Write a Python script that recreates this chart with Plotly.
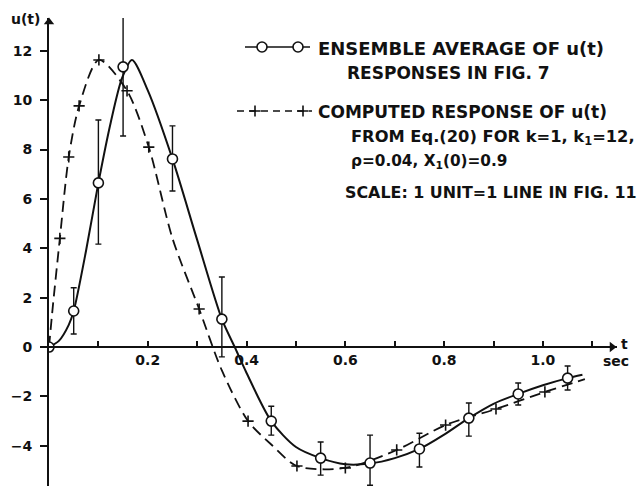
import plotly.graph_objects as go

# ---- data ----
# ensemble average (circles) with error bars
avg_t = [0.0, 0.05, 0.10, 0.15, 0.25, 0.35, 0.45, 0.55, 0.65, 0.75, 0.85, 0.95, 1.05]
avg_u = [0.0, 1.46, 6.65, 11.35, 7.62, 1.13, -3.0, -4.5, -4.7, -4.13, -2.88, -1.9, -1.26]
avg_hi = [0.0, 2.4, 9.2, 13.5, 8.96, 2.84, -2.4, -3.85, -3.57, -3.49, -2.27, -1.46, -0.77]
avg_lo = [0.0, 0.53, 4.17, 8.55, 6.32, -0.4, -3.57, -5.19, -5.6, -4.86, -3.61, -2.35, -1.74]

# smooth solid curve through the ensemble average
solid_t = [0.0, 0.02, 0.04, 0.05, 0.075, 0.10, 0.125, 0.148, 0.168, 0.20, 0.25, 0.30,
           0.35, 0.376, 0.40, 0.45, 0.50, 0.55, 0.60, 0.65, 0.70, 0.75, 0.80, 0.85,
           0.90, 0.95, 1.00, 1.05, 1.08]
solid_u = [0.0, 0.25, 0.9, 1.46, 3.9, 6.65, 9.1, 10.9, 11.63, 10.4, 7.62, 4.34,
           1.13, 0.0, -1.05, -3.0, -4.05, -4.5, -4.75, -4.72, -4.5, -4.13, -3.55, -2.88,
           -2.3, -1.9, -1.55, -1.26, -1.12]

# computed response (dashed curve) and its + markers
dash_t = [0.0, 0.008, 0.022, 0.04, 0.061, 0.101, 0.158, 0.202, 0.25, 0.304, 0.35, 0.403,
          0.45, 0.502, 0.60, 0.704, 0.803, 0.905, 1.004, 1.085]
dash_u = [0.0, 1.7, 4.4, 7.7, 9.77, 11.63, 10.38, 8.1, 4.4, 1.54, -0.95, -3.0,
          -3.95, -4.82, -4.9, -4.17, -3.16, -2.51, -1.82, -1.3]
plus_t = [0.022, 0.04, 0.061, 0.101, 0.158, 0.202, 0.304, 0.403, 0.502, 0.60, 0.704,
          0.803, 0.905, 1.004]
plus_u = [4.4, 7.7, 9.77, 11.63, 10.38, 8.1, 1.54, -3.0, -4.82, -4.9, -4.17,
          -3.16, -2.51, -1.82]

x_tickvals = [0.2, 0.4, 0.6, 0.8, 1.0]
x_ticktext = ["0.2", "0.4", "0.6", "0.8", "1.0"]
x_minor_vals = [0.1, 0.3, 0.5, 0.7, 0.9, 1.1]
y_tickvals = [-4, -2, 0, 2, 4, 6, 8, 10, 12]

# ---- layout geometry (pixels) ----
W, H = 643, 486
ML, MR, MT, MB = 49, 26, 18, 0
XMIN, XMAX = 0.0, 1.15
YMIN, YMAX = -5.63, 13.33
PW, PH = W - ML - MR, H - MT - MB

def px(x):
    return (x - ML) / PW

def py(y):
    return (H - MB - y) / PH

FONT = "DejaVu Sans"
BLACK = "#111111"

fig = go.Figure()

# solid curve
fig.add_trace(go.Scatter(x=solid_t, y=solid_u, mode="lines",
                         line=dict(color=BLACK, width=2, shape="spline", smoothing=0.8),
                         hoverinfo="skip", showlegend=False))
# dashed curve
fig.add_trace(go.Scatter(x=dash_t, y=dash_u, mode="lines",
                         line=dict(color=BLACK, width=1.8, dash="11px,6px",
                                   shape="spline", smoothing=0.8),
                         hoverinfo="skip", showlegend=False))
# + markers
fig.add_trace(go.Scatter(x=plus_t, y=plus_u, mode="markers",
                         marker=dict(symbol="cross-thin", size=8,
                                     line=dict(color=BLACK, width=1.6)),
                         showlegend=False))
# circles with error bars
err_plus = [h - u for h, u in zip(avg_hi, avg_u)]
err_minus = [u - l for u, l in zip(avg_u, avg_lo)]
fig.add_trace(go.Scatter(x=avg_t, y=avg_u, mode="markers",
                         marker=dict(symbol="circle", size=10, color="white",
                                     line=dict(color=BLACK, width=1.6)),
                         error_y=dict(type="data", array=err_plus, arrayminus=err_minus,
                                      symmetric=False, color=BLACK, thickness=1.4, width=3),
                         showlegend=False))

# legend glyphs and axis arrowheads on a pixel-coordinate overlay axis
ov = dict(xaxis="x2", yaxis="y2", showlegend=False, hoverinfo="skip")
fig.add_trace(go.Scatter(x=[245, 310], y=[47, 47], mode="lines",
                         line=dict(color=BLACK, width=1.3), **ov))
fig.add_trace(go.Scatter(x=[262, 298], y=[47, 47], mode="markers",
                         marker=dict(symbol="circle", size=10, color="white",
                                     line=dict(color=BLACK, width=1.6)), **ov))
fig.add_trace(go.Scatter(x=[237, 312], y=[111, 111], mode="lines",
                         line=dict(color=BLACK, width=1.5, dash="7px,5px"), **ov))
fig.add_trace(go.Scatter(x=[255, 303], y=[111, 111], mode="markers",
                         marker=dict(symbol="cross-thin", size=8,
                                     line=dict(color=BLACK, width=1.6)), **ov))
fig.add_trace(go.Scatter(x=[49], y=[22], mode="markers", cliponaxis=False,
                         marker=dict(symbol="triangle-up", size=9, color=BLACK), **ov))
fig.add_trace(go.Scatter(x=[612], y=[347], mode="markers", cliponaxis=False,
                         marker=dict(symbol="triangle-right", size=9, color=BLACK), **ov))

texts = [
    (316, 48, 18.0, "ENSEMBLE AVERAGE OF u(t)"),
    (345, 73, 17.0, "RESPONSES IN FIG. 7"),
    (316, 112, 17.0, "COMPUTED RESPONSE OF u(t)"),
    (349, 137, 16.3, "FROM Eq.(20) FOR k=1, k<sub>1</sub>=12,"),
    (349, 162, 15.3, "ρ=0.04, X<sub>1</sub>(0)=0.9"),
    (343, 192, 15.9, "SCALE: 1 UNIT=1 LINE IN FIG. 11"),
]
anns = []
for x, y, s, t in texts:
    anns.append(dict(x=px(x), y=py(y), xref="paper", yref="paper", text=t,
                     showarrow=False, xanchor="left", yanchor="middle",
                     font=dict(family=FONT, size=s, color=BLACK, weight="bold")))

lf = dict(family=FONT, size=14, color=BLACK, weight="bold")
anns.append(dict(x=px(25), y=py(19), xref="paper", yref="paper", text="u(t)",
                 showarrow=False, xanchor="center", yanchor="middle", font=lf))
anns.append(dict(x=px(624), y=py(344), xref="paper", yref="paper", text="t",
                 showarrow=False, xanchor="center", yanchor="middle", font=lf))
anns.append(dict(x=px(616), y=py(361), xref="paper", yref="paper", text="sec",
                 showarrow=False, xanchor="center", yanchor="middle", font=lf))

zero_pos = (0 - YMIN) / (YMAX - YMIN)
tickfont = dict(family=FONT, size=14, color=BLACK, weight="bold")

fig.update_layout(
    width=W, height=H,
    margin=dict(l=ML, r=MR, t=MT, b=MB, pad=0),
    plot_bgcolor="white", paper_bgcolor="white",
    font=dict(family=FONT, color=BLACK),
    annotations=anns,
    xaxis=dict(range=[XMIN, XMAX], anchor="free", position=zero_pos,
               showline=True, linewidth=2, linecolor=BLACK, showgrid=False,
               zeroline=False, ticks="inside", ticklen=5, tickwidth=1.5,
               tickcolor=BLACK, tickvals=x_tickvals, ticktext=x_ticktext,
               minor=dict(tickvals=x_minor_vals, ticks="inside", ticklen=5,
                          tickwidth=1.5, tickcolor=BLACK, showgrid=False),
               tickfont=tickfont),
    yaxis=dict(range=[YMIN, YMAX], showline=True, linewidth=2, linecolor=BLACK,
               showgrid=False, zeroline=False, ticks="outside", ticklen=7,
               tickwidth=1.5, tickcolor=BLACK, tickvals=y_tickvals,
               ticklabelstandoff=5, tickfont=tickfont),
    xaxis2=dict(range=[ML, W - MR], overlaying="x", visible=False),
    yaxis2=dict(range=[H - MB, MT], overlaying="y", visible=False),
)

fig.write_html("out.html", config={"displayModeBar": False},
               post_script="document.body.style.margin='0';document.body.style.overflow='hidden';")
